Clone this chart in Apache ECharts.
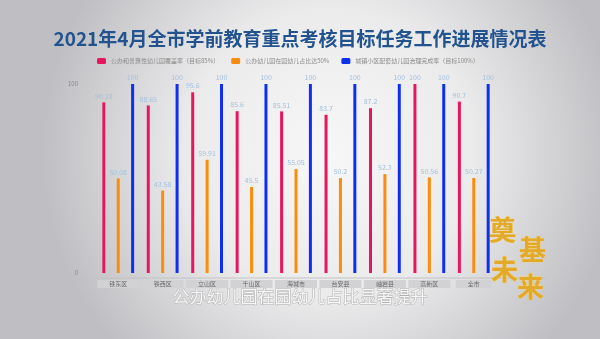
<!DOCTYPE html>
<html>
<head>
<meta charset="utf-8">
<style>
  html, body { margin: 0; padding: 0; }
  #chart { width: 600px; height: 339px; }
</style>
<script src="https://cdn.jsdelivr.net/npm/echarts@6/dist/echarts.min.js"></script>
</head>
<body>
<div id="chart"></div>
<script>
// 各区县及全市
const categories = ['铁东区', '铁西区', '立山区', '千山区', '海城市', '台安县', '岫岩县', '高新区', '全市'];

const seriesNames = [
  '公办和普惠性幼儿园覆盖率（目标85%）',
  '公办幼儿园在园幼儿占比达50%',
  '城镇小区配套幼儿园治理完成率（目标100%）'
];

// 覆盖率（%）
const coverageRate = [90.28, 88.65, 95.6, 85.6, 85.51, 83.7, 87.2, 100, 90.7];
// 公办园在园幼儿占比（%）
const publicShare = [50.08, 43.58, 59.91, 45.5, 55.05, 50.2, 52.3, 50.56, 50.27];
// 小区配套园治理完成率（%）
const communityRate = [100, 100, 100, 100, 100, 100, 100, 100, 100];

const yTicks = [0, 100];

const colors = ['#e6175f', '#fb8c0c', '#0f2ff0'];
const font = '"Noto Sans CJK SC", "Noto Sans", sans-serif';

const chart = echarts.init(document.getElementById('chart'));

function barSeries(name, data, color) {
  return {
    name: name,
    type: 'bar',
    data: data,
    barWidth: 3,
    barGap: '380%',
    itemStyle: { color: color },
    label: {
      show: true,
      position: 'top',
      distance: 3,
      fontSize: 7,
      fontFamily: font,
      color: '#a3c0de'
    }
  };
}

chart.setOption({
  backgroundColor: {
    type: 'radial', x: 0.55, y: 0.45, r: 0.85,
    colorStops: [
      { offset: 0, color: '#f7f7f7' },
      { offset: 0.5, color: '#ebebec' },
      { offset: 1, color: '#bfbfc3' }
    ]
  },
  title: {
    text: '2021年4月全市学前教育重点考核目标任务工作进展情况表',
    left: 'center',
    top: 24,
    textStyle: {
      fontFamily: font,
      fontSize: 19,
      fontWeight: 'bold',
      color: '#22538f'
    }
  },
  legend: {
    top: 53,
    left: 92,
    itemWidth: 9,
    itemHeight: 6,
    itemGap: 12,
    textStyle: { fontSize: 6, fontFamily: font, color: '#8a8a8a' },
    data: seriesNames
  },
  grid: { left: 96, right: 104, top: 84, bottom: 66 },
  xAxis: {
    type: 'category',
    data: categories,
    axisLine: { show: false },
    axisTick: { show: false },
    axisLabel: {
      interval: 0,
      margin: 7,
      fontSize: 6,
      fontFamily: font,
      color: '#666',
      backgroundColor: '#d2d2d4',
      padding: [1, 12, 1, 12]
    }
  },
  yAxis: {
    type: 'value',
    min: 0,
    max: 100,
    interval: 100,
    axisLine: { show: false },
    axisTick: { show: false },
    splitLine: { show: false },
    axisLabel: {
      margin: 18,
      fontSize: 6,
      fontFamily: font,
      color: '#888',
      formatter: v => (yTicks.includes(v) ? String(v) : '')
    }
  },
  series: [
    barSeries(seriesNames[0], coverageRate, colors[0]),
    barSeries(seriesNames[1], publicShare, colors[1]),
    barSeries(seriesNames[2], communityRate, colors[2])
  ],
  graphic: [
    {
      type: 'line',
      shape: { x1: 70, y1: 278, x2: 547, y2: 278 },
      style: { stroke: '#c2c2c4', lineWidth: 1 },
      silent: true
    },
    {
      type: 'text',
      left: 'center',
      top: 288,
      style: {
        text: '公办幼儿园在园幼儿占比显著提升',
        font: '17px ' + font,
        fill: '#f6f6f6',
        stroke: '#b0b0b0',
        lineWidth: 1,
        shadowColor: 'rgba(0,0,0,0.3)',
        shadowBlur: 3
      }
    },
    ...[
      ['奠', 489, 216],
      ['基', 519, 236],
      ['未', 491, 256],
      ['来', 517, 273]
    ].map(([ch, x, y]) => ({
      type: 'text',
      x: x,
      y: y,
      style: {
        text: ch,
        font: 'bold 27px "Noto Sans CJK SC", serif',
        fill: '#e2a92a',
        stroke: '#f7d46a',
        lineWidth: 0.6,
        shadowColor: 'rgba(90,60,0,0.45)',
        shadowBlur: 3,
        shadowOffsetX: 1,
        shadowOffsetY: 1
      }
    }))
  ]
});
</script>
</body>
</html>
